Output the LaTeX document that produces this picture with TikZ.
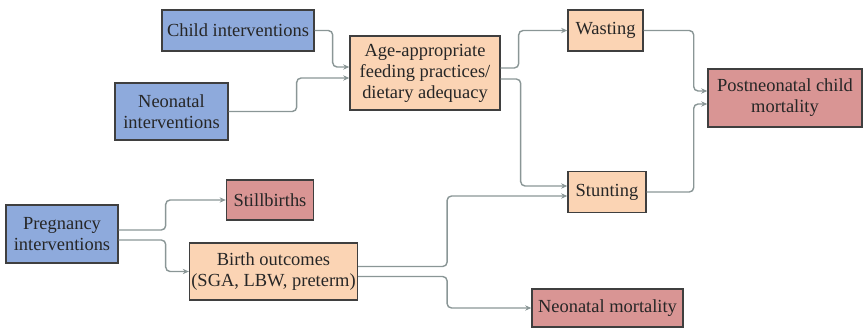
\documentclass[tikz,border=0pt]{standalone}
\usepackage{fontspec}
\setmainfont{Liberation Serif}
\usetikzlibrary{calc, arrows.meta}
\definecolor{intblue}{HTML}{8EAADC}
\definecolor{midpeach}{HTML}{FBD4B4}
\definecolor{outrose}{HTML}{D99594}
\definecolor{edgegray}{HTML}{3F3F3F}
\definecolor{linkgray}{HTML}{8A9696}
\tikzset{
  box/.style={draw=edgegray, line width=0.8pt, align=center, inner sep=1pt,
    text=black!85, font=\fontsize{10.5}{12}\selectfont},
  arr/.style={-{Stealth[length=3.5pt,width=3pt]}, draw=linkgray, line width=0.8pt,
    rounded corners=2.5pt}
}

\begin{document}
\begin{tikzpicture}[x=0.02cm, y=-0.02cm]
  \useasboundingbox (0,0) rectangle (865,328);
  % interventions
  \node[box, fill=intblue, minimum width=3.04cm, minimum height=0.82cm] (child) at (238,30.5) {Child interventions};
  \node[box, fill=intblue, minimum width=2.26cm, minimum height=1.14cm] (neo) at (171.5,111.5) {Neonatal\\interventions};
  \node[box, fill=intblue, minimum width=2.24cm, minimum height=1.16cm] (preg) at (62,234) {Pregnancy\\interventions};
  % intermediate outcomes
  \node[box, fill=midpeach, minimum width=3.0cm, minimum height=1.48cm] (age) at (425,73) {Age-appropriate\\feeding practices/\\dietary adequacy};
  \node[box, fill=midpeach, minimum width=1.5cm, minimum height=0.82cm] (wasting) at (605.5,30.5) {Wasting};
  \node[box, fill=midpeach, minimum width=1.56cm, minimum height=0.82cm] (stunting) at (607,192) {Stunting};
  \node[box, fill=midpeach, minimum width=3.18cm, minimum height=1.14cm] (birth) at (273.5,271.5) {Birth outcomes\\(SGA, LBW, preterm)};
  % mortality outcomes
  \node[box, fill=outrose, minimum width=3.08cm, minimum height=1.16cm] (post) at (785,98) {Postneonatal child\\mortality};
  \node[box, fill=outrose, minimum width=1.74cm, minimum height=0.8cm] (still) at (270,200) {Stillbirths};
  \node[box, fill=outrose, minimum width=3.02cm, minimum height=0.76cm] (neomort) at (607.5,308) {Neonatal mortality};
  % connectors
  \draw[arr] (child.east) -- ++(18,0) |- ($(age.west)+(0,-6)$);
  \draw[arr] (neo.east) -- ++(68,0) |- ($(age.west)+(0,5)$);
  \draw[arr] ($(age.east)+(0,-5)$) -- ++(18,0) |- (wasting.west);
  \draw[arr] ($(age.east)+(0,6)$) -- ++(20,0) |- ($(stunting.west)+(0,-6)$);
  \draw[arr] ($(birth.east)+(0,-5)$) -- ++(89,0) |- ($(stunting.west)+(0,4)$);
  \draw[arr] ($(birth.east)+(0,5)$) -- ++(89,0) |- (neomort.west);
  \draw[arr] (wasting.east) -- ++(50,0) |- ($(post.west)+(0,-7)$);
  \draw[arr] (stunting.east) -- ++(47,0) |- ($(post.west)+(0,6)$);
  \draw[arr] ($(preg.east)+(0,-4)$) -- ++(47,0) |- (still.west);
  \draw[arr] ($(preg.east)+(0,6)$) -- ++(47,0) |- (birth.west);
\end{tikzpicture}
\end{document}
